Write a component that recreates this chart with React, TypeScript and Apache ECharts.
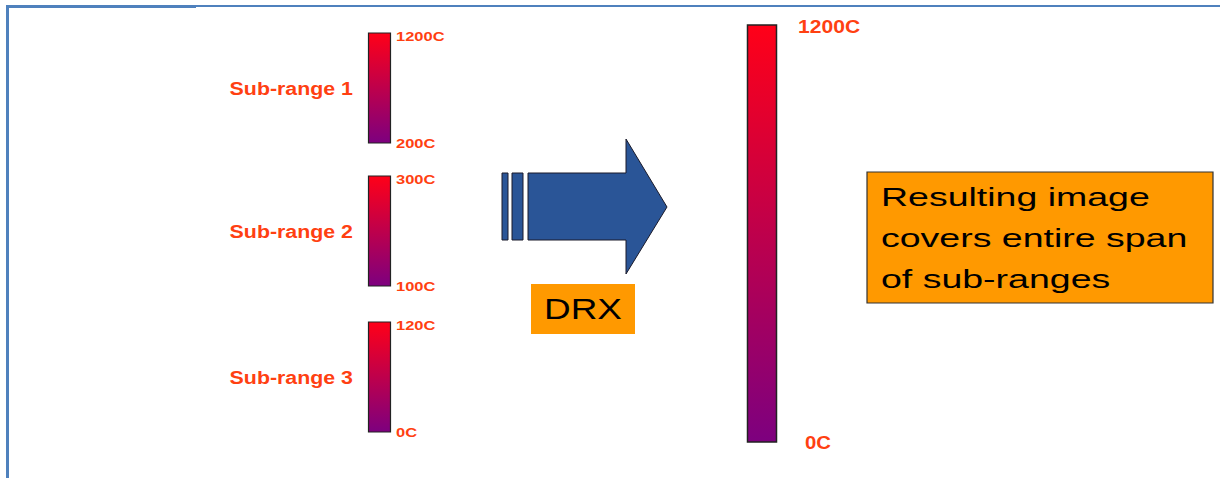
import React, { useEffect, useRef } from "react";
import * as echarts from "echarts";

const subRangeLabels = ["Sub-range 1", "Sub-range 2", "Sub-range 3"];
const subRangeMaxLabels = ["1200C", "300C", "120C"];
const subRangeMinLabels = ["200C", "100C", "0C"];
const resultMaxLabel = "1200C";
const resultMinLabel = "0C";
const processLabel = "DRX";
const noteLines = ["Resulting image", "covers entire span", "of sub-ranges"];

const RED = "#ff0018";
const PURPLE = "#7d007f";
const LABEL = "#ff4011";
const BORDER = "#4f81bd";
const ORANGE = "#ff9900";
const FONT = "'Liberation Sans', Arial, sans-serif";

const grad = () =>
  new echarts.graphic.LinearGradient(0, 0, 0, 1, [
    { offset: 0, color: RED },
    { offset: 1, color: PURPLE },
  ]);

export default function App() {
  const ref = useRef<HTMLDivElement>(null);
  useEffect(() => {
    if (!ref.current) return;
    const chart = echarts.init(ref.current, null, { renderer: "svg" });
    const elements: any[] = [];
    // frame lines
    elements.push({ type: "rect", shape: { x: 6, y: 5, width: 190, height: 3 }, style: { fill: BORDER } });
    elements.push({ type: "rect", shape: { x: 196, y: 5, width: 1024, height: 2 }, style: { fill: BORDER } });
    elements.push({ type: "rect", shape: { x: 6, y: 5, width: 3, height: 473 }, style: { fill: BORDER } });

    const tops = [33, 176, 322];
    const h = 110;
    subRangeLabels.forEach((lbl, i) => {
      const y = tops[i];
      elements.push({
        type: "rect",
        shape: { x: 368.5, y, width: 22, height: h },
        style: { fill: grad(), stroke: "#222", lineWidth: 1.2 },
      });
      elements.push({
        type: "text",
        x: 353,
        y: y + h / 2 + 1,
        scaleX: 1.155,
        style: { text: lbl, fill: LABEL, font: `bold 18.5px ${FONT}`, align: "right", verticalAlign: "middle" },
      });
      elements.push({
        type: "text",
        x: 396,
        y: y + 4,
        scaleX: 1.27,
        style: { text: subRangeMaxLabels[i], fill: LABEL, font: `bold 13px ${FONT}`, align: "left", verticalAlign: "middle" },
      });
      elements.push({
        type: "text",
        x: 396,
        y: y + h + 1,
        scaleX: 1.27,
        style: { text: subRangeMinLabels[i], fill: LABEL, font: `bold 13px ${FONT}`, align: "left", verticalAlign: "middle" },
      });
    });

    // arrow
    const ARROW = "#2a5597";
    elements.push({ type: "rect", shape: { x: 502, y: 173, width: 6, height: 67 }, style: { fill: ARROW, stroke: "#1a1a2a", lineWidth: 1 } });
    elements.push({ type: "rect", shape: { x: 512, y: 173, width: 11, height: 67 }, style: { fill: ARROW, stroke: "#1a1a2a", lineWidth: 1 } });
    elements.push({
      type: "polygon",
      shape: {
        points: [
          [528, 173], [626, 173], [626, 139], [667, 207], [626, 274], [626, 240], [528, 240],
        ],
      },
      style: { fill: ARROW, stroke: "#1a1a2a", lineWidth: 1 },
    });
    // DRX box
    elements.push({ type: "rect", shape: { x: 531, y: 284, width: 104, height: 50 }, style: { fill: ORANGE } });
    elements.push({
      type: "text",
      x: 583,
      y: 309,
      scaleX: 1.23,
      style: { text: processLabel, fill: "#000", font: `30px ${FONT}`, align: "center", verticalAlign: "middle" },
    });

    // result bar
    elements.push({
      type: "rect",
      shape: { x: 747.5, y: 25, width: 29, height: 417 },
      style: { fill: grad(), stroke: "#222", lineWidth: 1.5 },
    });
    elements.push({
      type: "text",
      x: 798,
      y: 26,
      scaleX: 1.14,
      style: { text: resultMaxLabel, fill: LABEL, font: `bold 18.5px ${FONT}`, align: "left", verticalAlign: "middle" },
    });
    elements.push({
      type: "text",
      x: 805,
      y: 442,
      scaleX: 1.1,
      style: { text: resultMinLabel, fill: LABEL, font: `bold 18.5px ${FONT}`, align: "left", verticalAlign: "middle" },
    });

    // note box
    elements.push({
      type: "rect",
      shape: { x: 867, y: 172, width: 346, height: 131 },
      style: { fill: ORANGE, stroke: "#333", lineWidth: 1.2 },
    });
    noteLines.forEach((line, i) => {
      elements.push({
        type: "text",
        x: 881,
        y: 197 + i * 41,
        scaleX: 1.5,
        style: { text: line, fill: "#000", font: `25px ${FONT}`, align: "left", verticalAlign: "middle" },
      });
    });

    chart.setOption({
      animation: false,
      backgroundColor: "#ffffff",
      graphic: { elements },
    });
    return () => chart.dispose();
  }, []);
  return (
    <div
      ref={ref}
      style={{ position: "absolute", left: 0, top: 0, width: 1220, height: 478 }}
    />
  );
}
